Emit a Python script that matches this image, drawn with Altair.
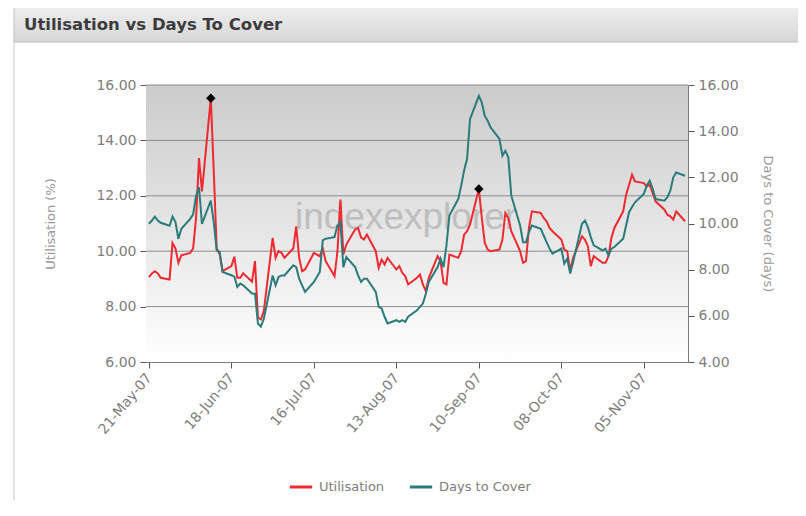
import altair as alt
import pandas as pd

# ---------------- data ----------------
dates = pd.bdate_range("2007-05-21", periods=131)

utilisation = [
    9.06, 9.20, 9.28, 9.20, 9.04, 8.98, 10.30, 10.10, 9.58, 9.85,
    9.94, 10.10, 11.20, 13.36, 12.16, 15.52, 12.90, 10.10, 9.90, 9.28,
    9.46, 9.80, 9.04, 9.04, 9.20, 8.90, 9.64, 7.60, 7.54, 7.84,
    10.48, 9.76, 10.00, 9.94, 9.76, 10.10, 10.90, 9.76, 9.28, 9.34,
    9.94, 9.88, 9.82, 10.10, 9.64, 9.10, 10.00, 11.86, 9.88, 10.24,
    10.78, 10.84, 10.50, 10.42, 10.60, 10.00, 9.40, 9.70, 9.52, 9.76,
    9.34, 9.46, 9.22, 9.10, 8.80, 9.04, 9.16, 8.80, 8.56, 9.04,
    9.82, 9.64, 8.86, 8.80, 9.88, 9.76, 10.00, 10.60, 10.72, 10.96,
    12.25, 11.20, 10.30, 10.06, 10.00, 10.06, 10.42, 11.38, 11.20, 10.72,
    10.00, 9.58, 9.64, 10.84, 11.44, 11.38, 11.20, 11.08, 10.84, 10.72,
    10.42, 10.06, 10.00, 9.30, 9.76, 10.54, 10.42, 10.18, 9.46, 9.82,
    9.58, 9.58, 9.82, 10.48, 10.84, 11.44, 12.04, 12.40, 12.76, 12.52,
    12.46, 12.34, 12.40, 12.10, 11.80, 11.50, 11.32, 11.26, 11.14, 11.44,
    11.08,
]

days_to_cover = [
    9.99, 10.13, 10.30, 10.13, 10.03, 9.90, 10.30, 10.06, 9.34, 9.77,
    10.20, 10.40, 11.20, 11.57, 9.98, 10.99, 10.06, 8.84, 8.77, 7.90,
    7.76, 7.70, 7.25, 7.40, 7.32, 6.97, 6.96, 5.67, 5.53, 5.88,
    7.75, 7.32, 7.68, 7.75, 7.75, 8.19, 8.11, 7.61, 7.32, 7.04,
    7.47, 7.68, 7.90, 9.27, 9.34, 9.41, 9.91, 10.06, 8.11, 8.55,
    8.11, 7.75, 7.47, 7.61, 7.61, 7.04, 6.39, 6.32, 5.96, 5.67,
    5.81, 5.74, 5.81, 5.74, 5.96, 6.24, 6.39, 6.53, 6.96, 7.47,
    8.11, 8.48, 8.11, 9.05, 10.34, 11.06, 11.64, 12.30, 12.80, 14.52,
    15.53, 15.24, 14.66, 14.45, 14.16, 13.66, 12.94, 13.15, 12.87, 11.21,
    9.91, 9.19, 9.19, 9.63, 9.91, 9.77, 9.48, 9.19, 8.91, 8.69,
    8.91, 8.26, 8.48, 7.83, 8.33, 9.99, 10.13, 9.84, 9.41, 9.05,
    8.84, 8.91, 8.62, 8.91, 8.98, 9.34, 9.91, 10.49, 10.71, 10.92,
    11.28, 11.64, 11.86, 11.50, 11.06, 10.99, 11.14, 11.42, 12.00, 12.21,
    12.07,
]

marker_dates = ["2007-06-11", "2007-09-10"]
marker_values = [15.52, 12.25]

series_names = ["Utilisation", "Days to Cover"]
series_colors = ["#ec2a30", "#2b7b7b"]

util_ticks = [6, 8, 10, 12, 14, 16]
dtc_ticks = [4, 6, 8, 10, 12, 14, 16]
grid_values = [8, 10, 12, 14, 16]

chart_title = "Utilisation vs Days To Cover"

tick_dates = [
    alt.DateTime(year=2007, month=5, date=21),
    alt.DateTime(year=2007, month=6, date=18),
    alt.DateTime(year=2007, month=7, date=16),
    alt.DateTime(year=2007, month=8, date=13),
    alt.DateTime(year=2007, month=9, date=10),
    alt.DateTime(year=2007, month=10, date=8),
    alt.DateTime(year=2007, month=11, date=5),
]
x_domain = [alt.DateTime(year=2007, month=5, date=20), alt.DateTime(year=2007, month=11, date=20)]

# ---------------- tables ----------------
wide = pd.DataFrame({"date": dates, "Utilisation": utilisation, "Days to Cover": days_to_cover})
long = wide.melt("date", var_name="series", value_name="value")
util_df = long[long["series"] == "Utilisation"]
dtc_df = long[long["series"] == "Days to Cover"]
markers_df = pd.DataFrame({"date": pd.to_datetime(marker_dates), "value": marker_values})
grid_df = pd.DataFrame({"value": grid_values})
one = pd.DataFrame({"k": [0]})

W, H = 542, 277
FONT = "DejaVu Sans"
LABEL_COLOR = "#7d7d7d"

x_enc = alt.X(
    "date:T",
    scale=alt.Scale(domain=x_domain),
    axis=alt.Axis(
        values=tick_dates, format="%d-%b-%y", labelAngle=-50, labelAlign="right",
        labelBaseline="middle", title=None, grid=False, tickSize=6, labelPadding=7,
        labelFont=FONT, labelFontSize=14, labelColor=LABEL_COLOR,
        domainColor="#7a7a7a", tickColor="#555555",
    ),
)

color_enc = alt.Color(
    "series:N",
    scale=alt.Scale(domain=series_names, range=series_colors),
    legend=alt.Legend(
        title=None, orient="none", legendX=142, legendY=389, direction="horizontal",
        symbolType="stroke", symbolStrokeWidth=3, symbolSize=500, labelOffset=5,
        columnPadding=18, labelFont=FONT, labelFontSize=13, labelColor=LABEL_COLOR,
    ),
)

util_scale = alt.Scale(domain=[6, 16], nice=False, zero=False)
util_axis = alt.Axis(
    title="Utilisation (%)", values=util_ticks, format=".2f", grid=False, tickSize=6,
    labelFont=FONT, labelFontSize=14, labelColor=LABEL_COLOR, labelPadding=4,
    titleFont=FONT, titleFontSize=13, titleFontWeight="normal", titleColor="#999999",
    titlePadding=38, domainColor="#7a7a7a", tickColor="#555555",
)

# ---------------- decoration ----------------
header = alt.Chart(one).mark_rect(
    color=alt.Gradient(
        gradient="linear",
        stops=[alt.GradientStop(color="#f0f0f0", offset=0), alt.GradientStop(color="#d6d6d6", offset=1)],
        x1=0, x2=0, y1=0, y2=1,
    ),
    stroke="#bdbdbd", strokeWidth=1, cornerRadiusTopLeft=5,
).encode(x=alt.value(-132), x2=alt.value(720), y=alt.value(-80), y2=alt.value(-43))

title_text = alt.Chart(one).mark_text(
    text=chart_title, font=FONT, fontSize=16.5, fontWeight="bold", color="#3c3c3c",
    align="left", baseline="alphabetic",
).encode(x=alt.value(-122), y=alt.value(-55))

border = alt.Chart(one).mark_rule(color="#c4c4c4", strokeWidth=1).encode(
    x=alt.value(-132), y=alt.value(-43), y2=alt.value(420)
)

background = alt.Chart(one).mark_rect(
    color=alt.Gradient(
        gradient="linear",
        stops=[alt.GradientStop(color="#cbcbcb", offset=0), alt.GradientStop(color="#ffffff", offset=1)],
        x1=0, x2=0, y1=0, y2=1,
    ),
).encode(x=alt.value(0), x2=alt.value(W), y=alt.value(0), y2=alt.value(H))

watermark = alt.Chart(one).mark_text(
    text="indexexplorer", font="Liberation Sans", fontSize=37, color="#a6a6a6", opacity=0.6,
    align="center", baseline="middle",
).encode(x=alt.value(260), y=alt.value(133))

grid = alt.Chart(grid_df).mark_rule(color="#8c8c8c", strokeWidth=1).encode(
    y=alt.Y("value:Q", scale=util_scale, axis=util_axis)
)

# ---------------- series ----------------
util_line = alt.Chart(util_df).mark_line(strokeWidth=2).encode(
    x=x_enc,
    y=alt.Y("value:Q", scale=util_scale, axis=util_axis),
    color=color_enc,
)

markers = alt.Chart(markers_df).mark_point(
    shape="diamond", filled=True, color="#000000", size=90, opacity=1
).encode(x="date:T", y=alt.Y("value:Q", scale=util_scale, axis=util_axis))

dtc_line = alt.Chart(dtc_df).mark_line(strokeWidth=2).encode(
    x=x_enc,
    y=alt.Y(
        "value:Q",
        scale=alt.Scale(domain=[4, 16], nice=False, zero=False),
        axis=alt.Axis(
            orient="right", title="Days to Cover (days)", values=dtc_ticks, format=".2f",
            grid=False, tickSize=6, labelFont=FONT, labelFontSize=14, labelColor=LABEL_COLOR,
            labelPadding=4, titleFont=FONT, titleFontSize=13, titleFontWeight="normal",
            titleColor="#999999", titlePadding=22, domainColor="#7a7a7a", tickColor="#555555",
        ),
    ),
    color=color_enc,
)

left = alt.layer(header, title_text, border, background, watermark, grid, util_line, markers)

chart = (
    alt.layer(left, dtc_line)
    .resolve_scale(y="independent")
    .properties(
        width=W,
        height=H,
        autosize=alt.AutoSizeParams(type="none"),
        padding={"left": 138, "top": 77, "right": 110, "bottom": 138},
    )
    .configure_view(stroke=None)
    .configure(background="#ffffff")
)

chart.save("out.html", embed_options={"renderer": "svg", "actions": False})
